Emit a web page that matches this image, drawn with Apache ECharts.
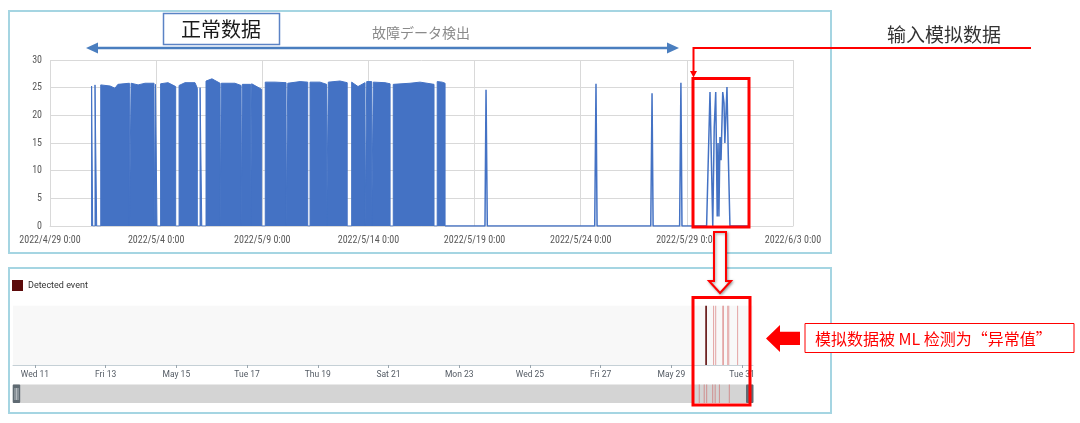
<!DOCTYPE html>
<html><head><meta charset="utf-8">
<script src="https://cdn.jsdelivr.net/npm/echarts@6/dist/echarts.min.js"></script>
<style>html,body{margin:0;padding:0;background:#fff}#c{width:1080px;height:423px}</style>
</head><body><div id="c"></div>
<script>
// ---------- TOP CHART (x = days since 2022/4/29 0:00) ----------
const topTickLabels = ['2022/4/29 0:00','2022/5/4 0:00','2022/5/9 0:00','2022/5/14 0:00','2022/5/19 0:00','2022/5/24 0:00','2022/5/29 0:00','2022/6/3 0:00'];

// normal period: envelope of the dense sensor signal (0 = gaps)
const normalDay = [
  1.96,1.96,2.01,2.01,
  2.12,2.12,2.20,2.20,
  2.39,2.39,2.83,3.06,3.20,3.74,3.74,
  3.82,3.82,4.15,4.48,4.90,4.90,
  4.97,4.97,5.04,5.04,
  5.21,5.21,5.56,5.92,5.92,
  6.08,6.08,6.36,6.83,6.94,6.94,
  7.07,7.07,7.15,7.15,
  7.35,7.35,7.63,8.01,8.01,
  8.07,8.07,8.71,9.00,9.00,
  9.06,9.06,9.45,9.45,
  9.50,9.50,9.97,9.97,
  10.14,10.14,10.60,11.12,11.12,
  11.20,11.20,11.78,12.14,12.14,
  12.25,12.25,12.72,13.03,13.03,
  13.11,13.11,13.66,14.00,14.00,
  14.21,14.21,14.51,14.84,14.84,
  14.92,14.92,15.15,15.15,
  15.23,15.23,15.78,16.02,16.02,
  16.17,16.17,16.96,17.43,18.09,18.09,
  18.24,18.24,18.47,18.61,18.61
];
const normalValue = [
  0,25.3,25.3,0,
  0,25.5,25.5,0,
  0,25.5,25.3,24.9,25.6,25.8,0,
  0,25.8,25.5,25.8,25.8,0,
  0,25.6,25.6,0,
  0,25.7,25.9,25.2,0,
  0,25.4,25.9,25.9,24.9,0,
  0,25.0,25.0,0,
  0,26.2,26.6,25.8,0,
  0,25.8,25.8,25.4,0,
  0,25.6,25.6,0,
  0,25.7,24.7,0,
  0,26.0,26.0,25.9,0,
  0,25.8,26.1,26.0,0,
  0,26.0,26.0,25.6,0,
  0,26.0,26.2,25.9,0,
  0,26.0,25.2,25.9,0,
  0,26.1,26.1,0,
  0,26.0,25.9,25.7,0,
  0,25.6,25.8,26.0,25.6,0,
  0,26.1,26.0,25.8,0
];
// fault period + simulated input data
const faultDay = [18.61,20.49,20.54,20.60,25.66,25.72,25.77,28.30,28.36,28.41,29.66,29.72,29.77,
  30.93,31.09,31.22,31.29,31.36,31.43,31.47,31.51,31.56,31.61,31.69,31.75,31.79,31.89,31.95,32.03,32.90];
const faultValue = [0,0,24.6,0,0,25.7,0,0,24.0,0,0,25.9,0,
  0,24.2,0,17.9,24.2,1.7,15.0,1.7,16.1,11.9,24.2,22.2,15.0,25.1,13.1,0,0];

// ---------- BOTTOM CHART (same day unit) ----------
const bottomTickDays = [12,14,16,18,20,22,24,26,28,30,32];
const bottomTickLabels = ['Wed 11','Fri 13','May 15','Tue 17','Thu 19','Sat 21','Mon 23','Wed 25','Fri 27','May 29','Tue 31'];
const strongEventDay = [31.00];
const weakEventDay = [31.17,31.23,31.43,31.45,31.57,31.60,31.85];
const sliderEventDay = [30.79,30.93,31.00,31.17,31.24,31.36,31.64];

const zip = (a,b)=>a.map((x,i)=>[x,b[i]]);
const chart = echarts.init(document.getElementById('c'), null, {renderer:'canvas'});
const RED = '#ff0000', BLUE = '#4472C4';
const lbl = {fontFamily:'"Liberation Sans Narrow", "Roboto Condensed", Lato', fontSize:10, color:'#595959'};
const ember = {fontFamily:'Roboto', fontSize:8.5, color:'#545b64'};

chart.setOption({
  animation:false,
  backgroundColor:'#fff',
  legend:{data:['Detected event'], left:12, top:280, padding:0, icon:'rect', itemWidth:11, itemHeight:11,
    itemGap:5, textStyle:{fontFamily:'Roboto', fontSize:9, color:'#333'}},
  grid:[
    {left:50, top:60, width:743, height:166},
    {left:13, top:305.7, width:740, height:59.3, show:true, backgroundColor:'#f8f8f8', borderWidth:0},
    {left:13, top:384.5, width:740, height:18.5, show:true, backgroundColor:'#d4d4d4', borderWidth:0}
  ],
  xAxis:[
    {type:'value', gridIndex:0, min:0, max:35, interval:5,
      axisLine:{show:true, lineStyle:{color:'#d9d9d9'}}, axisTick:{show:false},
      splitLine:{show:true, lineStyle:{color:'#d9d9d9'}},
      axisLabel:Object.assign({margin:9, formatter:v=>topTickLabels[Math.round(v/5)]}, lbl)},
    {type:'value', gridIndex:1, min:11.38, max:32.31,
      axisLine:{show:true, lineStyle:{color:'#c5d0d6'}},
      axisTick:{show:true, length:3, customValues:bottomTickDays, lineStyle:{color:'#9aa5ad'}},
      splitLine:{show:false},
      axisLabel:Object.assign({margin:5, customValues:bottomTickDays,
        formatter:v=>{const i=bottomTickDays.findIndex(d=>Math.abs(d-v)<1e-6);return i<0?'':bottomTickLabels[i];}}, ember)},
    {type:'value', gridIndex:2, min:11.38, max:32.31, show:false}
  ],
  yAxis:[
    {type:'value', gridIndex:0, min:0, max:30, interval:5,
      axisLine:{show:false}, axisTick:{show:false},
      splitLine:{show:true, lineStyle:{color:'#d9d9d9'}},
      axisLabel:Object.assign({margin:8}, lbl)},
    {type:'value', gridIndex:1, min:0, max:1, show:false},
    {type:'value', gridIndex:2, min:0, max:1, show:false}
  ],
  series:[
    {name:'normal', type:'line', xAxisIndex:0, yAxisIndex:0, data:zip(normalDay,normalValue),
      showSymbol:false, sampling:null, lineStyle:{color:BLUE, width:1}, itemStyle:{color:BLUE},
      areaStyle:{color:BLUE, opacity:1}, z:3},
    {name:'fault', type:'line', xAxisIndex:0, yAxisIndex:0, data:zip(faultDay,faultValue),
      showSymbol:false, lineStyle:{color:BLUE, width:1.5}, itemStyle:{color:BLUE}, z:3},
    {name:'Detected event', type:'bar', xAxisIndex:1, yAxisIndex:1, barWidth:1.6,
      data:strongEventDay.map(d=>[d,1]), itemStyle:{color:'#5c0a0a'}, z:4},
    {name:'weak', type:'bar', xAxisIndex:1, yAxisIndex:1, barWidth:1,
      data:weakEventDay.map(d=>[d,1]), itemStyle:{color:'#e3a3a3'}, z:3},
    {name:'slider', type:'bar', xAxisIndex:2, yAxisIndex:2, barWidth:1,
      data:sliderEventDay.map(d=>[d,1]), itemStyle:{color:'#d08f8f'}, z:3}
  ],
  graphic:[
    // panel borders
    {type:'rect', shape:{x:9, y:11, width:822, height:242}, style:{fill:'none', stroke:'#a5d5e2', lineWidth:2}, z:1},
    {type:'rect', shape:{x:9, y:268, width:822, height:145}, style:{fill:'none', stroke:'#a5d5e2', lineWidth:2}, z:1},
    // 正常数据 label
    {type:'rect', shape:{x:163.5, y:13.5, width:116, height:31}, style:{fill:'#fff', stroke:'#5b83c5', lineWidth:1.5}, z:50},
    {type:'text', x:221, y:29.5, style:{text:'正常数据', fill:'#1a1a1a', font:'20px "Noto Sans CJK SC"', textAlign:'center', textVerticalAlign:'middle'}, z:51},
    {type:'text', x:372, y:33, style:{text:'故障データ検出', fill:'#8a8a8a', font:'14px "Noto Sans CJK JP"', textAlign:'left', textVerticalAlign:'middle'}, z:51},
    // double-headed blue arrow
    {type:'line', shape:{x1:96, y1:48, x2:669, y2:48}, style:{stroke:'#4a7ebf', lineWidth:2.5}, z:50},
    {type:'polygon', shape:{points:[[86,48],[98,42.5],[98,53.5]]}, style:{fill:'#4a7ebf'}, z:50},
    {type:'polygon', shape:{points:[[679,48],[667,42.5],[667,53.5]]}, style:{fill:'#4a7ebf'}, z:50},
    // 输入模拟数据
    {type:'text', x:887, y:35, style:{text:'输入模拟数据', fill:'#333', font:'19px "Noto Sans CJK SC"', textAlign:'left', textVerticalAlign:'middle'}, z:51},
    {type:'polyline', shape:{points:[[1031,48],[693.5,48],[693.5,72]]}, style:{stroke:RED, lineWidth:2, fill:null}, z:60},
    {type:'polygon', shape:{points:[[690,71],[697,71],[693.5,77.5]]}, style:{fill:RED}, z:60},
    // red boxes
    {type:'rect', shape:{x:693, y:78.5, width:56, height:148.5}, style:{fill:'none', stroke:RED, lineWidth:3}, z:60},
    {type:'rect', shape:{x:693, y:297.5, width:57, height:107.5}, style:{fill:'none', stroke:RED, lineWidth:3}, z:60},
    // hollow down arrow
    {type:'polygon', shape:{points:[[714,232],[726,232],[726,281],[731,281],[720,293],[709,281],[714,281]]},
      style:{fill:'#fff', stroke:RED, lineWidth:2, shadowBlur:3, shadowColor:'rgba(0,0,0,0.35)', shadowOffsetX:1, shadowOffsetY:1}, z:60},
    // solid left arrow
    {type:'polygon', shape:{points:[[766,338.5],[780,325],[780,331.8],[800,331.8],[800,345],[780,345],[780,352]]}, style:{fill:RED}, z:60},
    // annotation text box
    {type:'rect', shape:{x:805, y:323.5, width:269, height:29}, style:{fill:'#fff', stroke:RED, lineWidth:1}, z:60},
    {type:'text', x:815, y:338.5, style:{text:'模拟数据被 ML 检测为“异常值”', fill:RED, font:'16px "Noto Sans CJK SC"', textAlign:'left', textVerticalAlign:'middle'}, z:61},
    // slider handles
    {type:'rect', shape:{x:12.7, y:384.5, width:7.5, height:18.5, r:1}, style:{fill:'#5f6a72'}, z:20},
    {type:'rect', shape:{x:746, y:384.5, width:7.5, height:18.5, r:1}, style:{fill:'#5f6a72'}, z:20},
    {type:'line', shape:{x1:15, y1:388, x2:15, y2:400}, style:{stroke:'#c9ced2', lineWidth:0.8}, z:21},
    {type:'line', shape:{x1:16.5, y1:388, x2:16.5, y2:400}, style:{stroke:'#c9ced2', lineWidth:0.8}, z:21},
    {type:'line', shape:{x1:18, y1:388, x2:18, y2:400}, style:{stroke:'#c9ced2', lineWidth:0.8}, z:21},
    {type:'line', shape:{x1:750, y1:390, x2:750, y2:398}, style:{stroke:'#c9ced2', lineWidth:0.8}, z:21}
  ]
});
</script></body></html>
